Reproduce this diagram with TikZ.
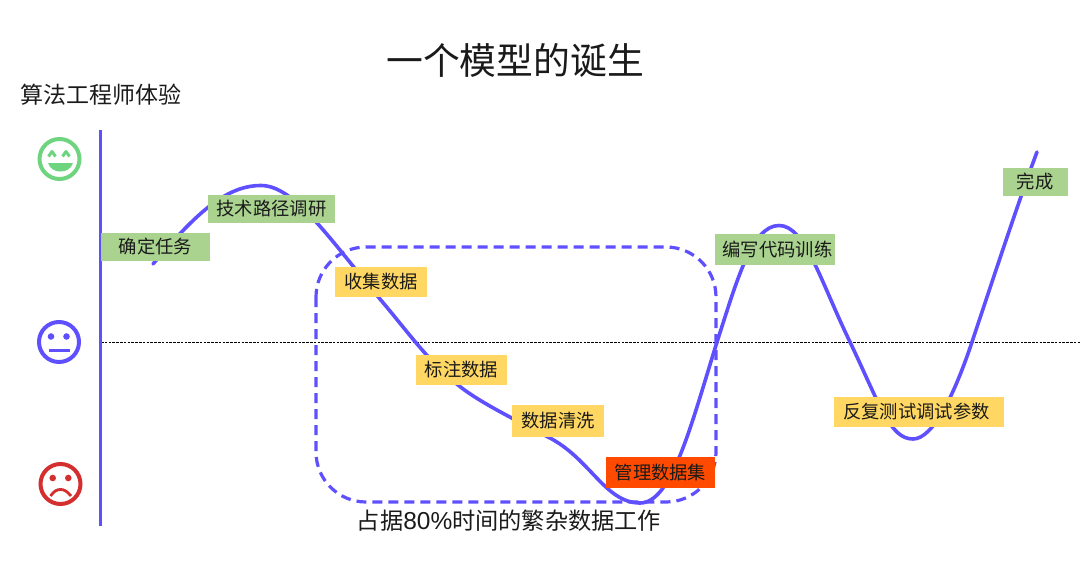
\documentclass[tikz,border=0pt]{standalone}
\usepackage{fontspec}
\setmainfont{Noto Sans CJK SC}
\newfontfamily\latinpart{Liberation Sans}
\definecolor{purp}{HTML}{5F50FF}
\definecolor{gbox}{HTML}{A9D38F}
\definecolor{ybox}{HTML}{FFD762}
\definecolor{obox}{HTML}{FF4A00}
\definecolor{fgreen}{HTML}{6FD47F}
\definecolor{fred}{HTML}{D32F2F}
\definecolor{ink}{HTML}{1A1A1A}
\tikzset{
  stage/.style={inner sep=0pt,text=ink,font=\fontsize{18.3}{20}\selectfont},
  gstage/.style={stage,fill=gbox},
  ystage/.style={stage,fill=ybox},
  ostage/.style={stage,fill=obox},
  curveline/.style={purp,line width=3.6pt,line cap=round},
  facering/.style={line width=4pt,fill=none},
  cap23/.style={inner sep=0pt,text=ink,font=\fontsize{23}{25}\selectfont}
}
\begin{document}
\begin{tikzpicture}[x=1pt,y=-1pt]
\useasboundingbox (0,0) rectangle (1080,586);
% title and captions
\node[inner sep=0pt,text=ink,font=\fontsize{36.8}{40}\selectfont] (title) at (515,60) {一个模型的诞生};
\node[cap23] (ylabel) at (100.5,95) {算法工程师体验};
\node[cap23,font=\fontsize{23.2}{25}\selectfont] (note) at (509,521) {占据{\latinpart\fontsize{24.5}{25}\selectfont 80\%}时间的繁杂数据工作};
% axis and neutral line
\coordinate (axT) at (100,130);
\coordinate (axB) at (100,526);
\coordinate (midL) at (101,342);
\coordinate (midR) at (1080,342);
\draw[black,line width=0.8pt,dash pattern=on 2.6pt off 1.2pt] (midL) -- (midR);
\draw[purp,line width=3pt] (axT) -- (axB);
% dashed region
\draw[purp,line width=3.2pt,dash pattern=on 10pt off 6pt,rounded corners=50pt]
  (316,247) rectangle (716,502);
% curve
\draw[curveline] (153,264)
  .. controls (195,215) and (225,185.5) .. (261,185.5)
  .. controls (295,185.5) and (330,240) .. (385,305)
  .. controls (410,335) and (432,365) .. (458,385)
  .. controls (480,403) and (520,422) .. (548,437)
  .. controls (590,458) and (605,503) .. (640,503)
  .. controls (672,503) and (691,425) .. (717,342)
  .. controls (737,280) and (752,225.5) .. (779,225.5)
  .. controls (805,225.5) and (820,280) .. (850,342)
  .. controls (880,405) and (890,439) .. (913,439)
  .. controls (934,439) and (956,390) .. (972,342)
  .. controls (990,288) and (1020,197) .. (1037,152);
% stage labels
\node[gstage,minimum width=109pt,minimum height=28pt] (s1) at (155.5,247) {确定任务};
\node[gstage,minimum width=127pt,minimum height=28pt] (s2) at (271.5,209) {技术路径调研};
\node[ystage,minimum width=92pt,minimum height=30pt] (s3) at (381,282) {\raisebox{-1pt}{收集数据}};
\node[ystage,minimum width=91pt,minimum height=30pt] (s4) at (461.5,370) {标注数据};
\node[ystage,minimum width=92pt,minimum height=32pt] (s5) at (558,421) {数据清洗};
\node[ostage,minimum width=109pt,minimum height=31pt] (s6) at (660.5,472.5) {\raisebox{1pt}{管理数据集}};
\node[gstage,minimum width=120pt,minimum height=31pt] (s7) at (775,249.5) {\hspace*{5pt}编写代码训练};
\node[ystage,minimum width=170pt,minimum height=30pt] (s8) at (919,412) {\raisebox{2pt}{反复测试调试参数}\hspace*{5pt}};
\node[gstage,minimum width=65pt,minimum height=28pt] (s9) at (1035.5,182) {\hspace*{-1pt}\raisebox{2pt}{完成}};
% happy face
\draw[fgreen,facering] (59.5,159) circle (20);
\draw[fgreen,line width=3pt,line join=round] (48.5,156.5) -- (52,151.5) -- (55.5,156.5);
\draw[fgreen,line width=3pt,line join=round] (62.5,156.5) -- (66,151.5) -- (69.5,156.5);
\fill[fgreen] (48,163) -- (73,163) .. controls (71,169) and (66,171.5) .. (60.5,171.5) .. controls (55,171.5) and (50,169) .. (48,163) -- cycle;
% neutral face
\draw[purp,facering] (59,342) circle (20);
\fill[purp] (51,336.5) circle (3.3);
\fill[purp] (66.5,336.5) circle (3.3);
\draw[purp,line width=3pt] (49,350) -- (70,350);
% sad face
\draw[fred,facering] (60.5,484) circle (20);
\fill[fred] (52.7,478) circle (3.3);
\fill[fred] (68.3,478) circle (3.3);
\draw[fred,line width=2.8pt] (50.5,496) .. controls (54,491) and (57,489.5) .. (60.5,489.5) .. controls (64,489.5) and (67,491) .. (71,496);
\end{tikzpicture}
\end{document}
